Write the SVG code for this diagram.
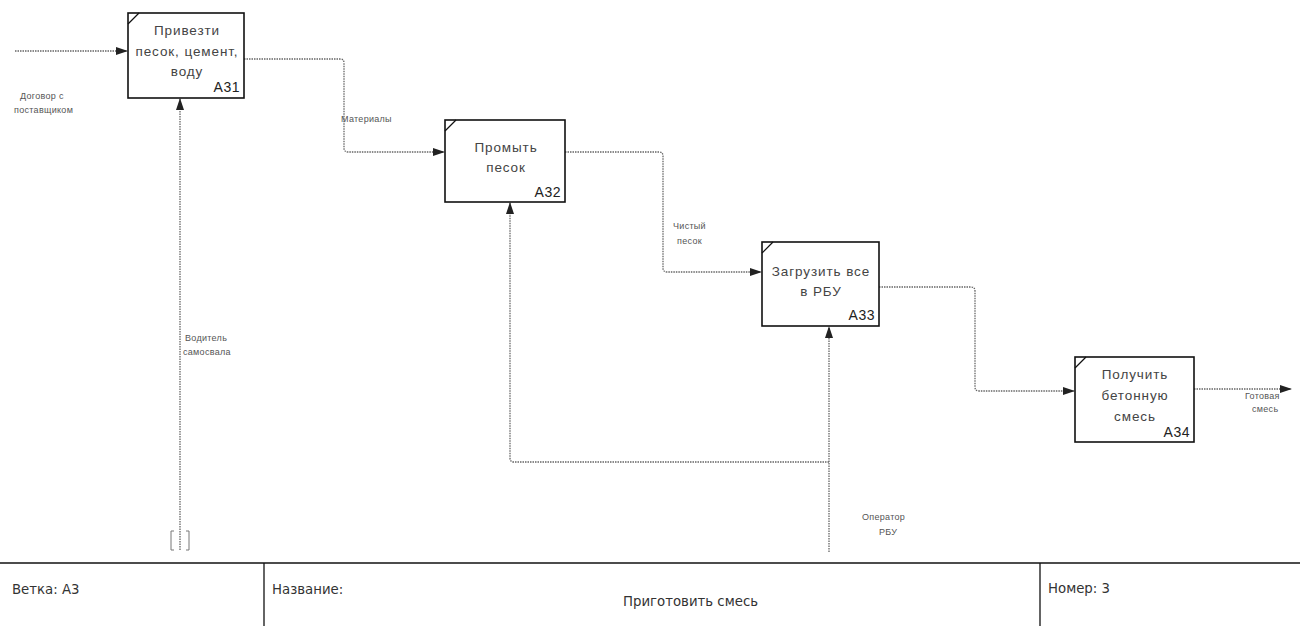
<svg xmlns="http://www.w3.org/2000/svg" width="1300" height="626" viewBox="0 0 1300 626">
<style>
.box{fill:#fff;stroke:#111;stroke-width:1.6}
.corner{stroke:#111;stroke-width:1.2}
.bt{font-family:"Liberation Sans",Arial,sans-serif;font-size:13.5px;letter-spacing:0.9px;fill:#444;text-anchor:middle}
.id{font-family:"Liberation Sans",Arial,sans-serif;font-size:14px;letter-spacing:0.5px;fill:#222;text-anchor:end}
.lbl{font-family:"Liberation Sans",Arial,sans-serif;font-size:9px;letter-spacing:0.3px;fill:#555}
.con{fill:none;stroke:#666;stroke-width:1.3;stroke-dasharray:1.5 1}
.ft{font-family:"DejaVu Sans",sans-serif;font-size:13.3px;fill:#333}
.fl{stroke:#111;stroke-width:1.3}
</style>
<defs>
<marker id="ah" markerWidth="12" markerHeight="8" refX="11" refY="4" orient="auto" markerUnits="userSpaceOnUse">
<path d="M0,0 L12,4 L0,8 Z" fill="#222"/>
</marker>
</defs>
<g id="connectors">
<path class="con" d="M15,51 H127" marker-end="url(#ah)"/>
<path class="con" d="M244,59 H340 Q344,59 344,63 V148 Q344,152 348,152 H444" marker-end="url(#ah)"/>
<path class="con" d="M565,152 H659 Q663,152 663,156 V268 Q663,272 667,272 H761" marker-end="url(#ah)"/>
<path class="con" d="M879,287 H971 Q975,287 975,291 V387 Q975,391 979,391 H1074" marker-end="url(#ah)"/>
<path class="con" d="M1194,389 H1291" marker-end="url(#ah)"/>
<path class="con" d="M180,550 V99" marker-end="url(#ah)"/>
<path class="con" d="M829,552 V327" marker-end="url(#ah)"/>
<path class="con" d="M829,462 H514 Q510,462 510,458 V203" marker-end="url(#ah)"/>
<path d="M174,531 H171 V550 H174 M186,531 H189 V550 H186" fill="none" stroke="#777" stroke-width="1"/>
<text class="lbl" x="20" y="99">Договор с</text>
<text class="lbl" x="14" y="113">поставщиком</text>
<text class="lbl" x="341" y="122">Материалы</text>
<text class="lbl" x="673" y="229">Чистый</text>
<text class="lbl" x="677" y="244">песок</text>
<text class="lbl" x="185" y="341">Водитель</text>
<text class="lbl" x="183" y="355">самосвала</text>
<text class="lbl" x="862" y="520">Оператор</text>
<text class="lbl" x="879" y="535">РБУ</text>
<text class="lbl" x="1245" y="399">Готовая</text>
<text class="lbl" x="1252" y="412">смесь</text>
</g>
<g id="A31">
<rect class="box" x="128" y="13" width="116" height="85"/>
<line class="corner" x1="128" y1="24" x2="139" y2="13"/>
<text class="bt" x="187" y="35">Привезти</text>
<text class="bt" x="187" y="56">песок, цемент,</text>
<text class="bt" x="187" y="76">воду</text>
<text class="id" x="240" y="92">А31</text>
</g>
<g id="A32">
<rect class="box" x="445" y="120" width="120" height="82"/>
<line class="corner" x1="445" y1="131" x2="456" y2="120"/>
<text class="bt" x="506" y="152">Промыть</text>
<text class="bt" x="506" y="172">песок</text>
<text class="id" x="561" y="197">А32</text>
</g>
<g id="A33">
<rect class="box" x="762" y="242" width="117" height="84"/>
<line class="corner" x1="762" y1="253" x2="773" y2="242"/>
<text class="bt" x="821" y="276">Загрузить все</text>
<text class="bt" x="821" y="296">в РБУ</text>
<text class="id" x="875" y="320">А33</text>
</g>
<g id="A34">
<rect class="box" x="1075" y="357" width="119" height="85"/>
<line class="corner" x1="1075" y1="368" x2="1086" y2="357"/>
<text class="bt" x="1135" y="379">Получить</text>
<text class="bt" x="1135" y="400">бетонную</text>
<text class="bt" x="1135" y="421">смесь</text>
<text class="id" x="1190" y="437">А34</text>
</g>
<g id="footer">
<line class="fl" x1="0" y1="563" x2="1300" y2="563"/>
<line class="fl" x1="264" y1="563" x2="264" y2="626"/>
<line class="fl" x1="1040" y1="563" x2="1040" y2="626"/>
<text class="ft" x="12" y="594">Ветка: А3</text>
<text class="ft" x="272" y="594">Название:</text>
<text class="ft" x="623" y="606">Приготовить смесь</text>
<text class="ft" x="1048" y="593">Номер: 3</text>
</g>
</svg>
